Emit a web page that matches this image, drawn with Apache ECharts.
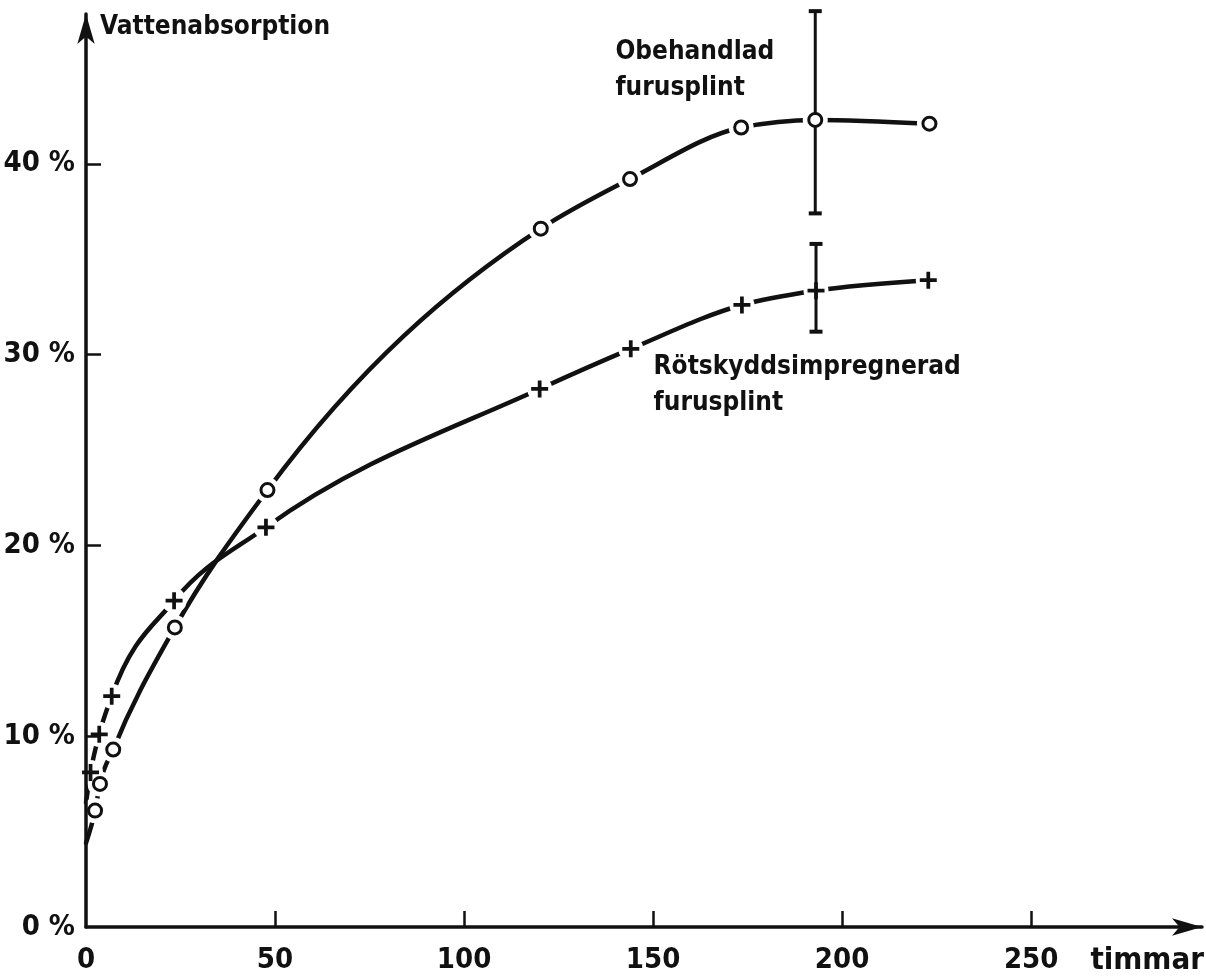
<!DOCTYPE html>
<html><head><meta charset="utf-8">
<script src="https://cdn.jsdelivr.net/npm/echarts@6/dist/echarts.min.js"></script>
<style>html,body{margin:0;padding:0;background:#fff}#c{width:1206px;height:976px}</style>
</head><body><div id="c"></div>
<script>
// Obehandlad furusplint (circles)
const untreatedHours = [2.4, 3.7, 7.2, 23.5, 48, 120.3, 143.9, 173.3, 192.9, 223.1];
const untreatedPct   = [6.1, 7.5, 9.3, 15.7, 22.9, 36.6, 39.2, 41.9, 42.3, 42.1];
const untreatedStart = [0, 4.4];
// Rötskyddsimpregnerad furusplint (plus)
const treatedHours = [1.2, 3.5, 6.8, 23.3, 47.6, 120, 144.1, 173.5, 193.1, 222.8];
const treatedPct   = [8.1, 10.1, 12.1, 17.1, 20.95, 28.2, 30.3, 32.6, 33.35, 33.9];
const treatedStart = [0, 6.5];
// spridning (error bars)
const errHours = [192.9, 193.1];
const errLow   = [37.4, 31.2];
const errHigh  = [48.0, 35.8];
// tick labels
const xTickValues = [0, 50, 100, 150, 200, 250];
const yTickValues = [0, 10, 20, 30, 40];
// curve annotations
const annotTexts = ['Obehandlad\nfurusplint', 'Rötskyddsimpregnerad\nfurusplint'];
const annotHours = [139.9, 150];
const annotPct   = [44.9, 28.4];

const INK = '#111';
const NUM_FONT = "'Liberation Sans Narrow', 'DejaVu Sans Condensed', 'DejaVu Sans', sans-serif";
const TXT_FONT = "'DejaVu Sans Condensed', 'Liberation Sans Narrow', 'DejaVu Sans', sans-serif";

const zip = (a, b) => a.map((v, i) => [v, b[i]]);
const untreated = zip(untreatedHours, untreatedPct);
const treated = zip(treatedHours, treatedPct);
const untreatedCurve = [untreatedStart].concat(untreated);
const treatedCurve = [treatedStart].concat(treated);
const PLUS = 'path://M3.9,0H6.1V3.9H10V6.1H6.1V10H3.9V6.1H0V3.9H3.9Z';

// monotone cubic (d3 monotoneX style) through pixel points
function monotonePath(p) {
  const n = p.length;
  const h = [], s = [], t = [];
  for (let i = 0; i < n - 1; i++) {
    h[i] = p[i + 1][0] - p[i][0];
    s[i] = (p[i + 1][1] - p[i][1]) / h[i];
  }
  for (let i = 1; i < n - 1; i++) {
    const pp = (s[i - 1] * h[i] + s[i] * h[i - 1]) / (h[i - 1] + h[i]);
    t[i] = (Math.sign(s[i - 1]) + Math.sign(s[i])) * Math.min(Math.abs(s[i - 1]), Math.abs(s[i]), 0.5 * Math.abs(pp)) || 0;
  }
  t[0] = (3 * s[0] - t[1]) / 2;
  t[n - 1] = (3 * s[n - 2] - t[n - 2]) / 2;
  let d = 'M' + p[0][0] + ',' + p[0][1];
  for (let i = 0; i < n - 1; i++) {
    const dx = h[i] / 3;
    d += 'C' + (p[i][0] + dx) + ',' + (p[i][1] + t[i] * dx) + ',' +
         (p[i + 1][0] - dx) + ',' + (p[i + 1][1] - t[i + 1] * dx) + ',' +
         p[i + 1][0] + ',' + p[i + 1][1];
  }
  return d;
}
function curveSeries(curve) {
  return {
    type: 'custom', z: 2, clip: false, silent: true, data: curve,
    renderItem: function (params, api) {
      if (params.dataIndex !== 0) return null;
      const pts = curve.map(c => api.coord(c));
      return {type: 'path', shape: {pathData: monotonePath(pts)},
              style: {fill: null, stroke: INK, lineWidth: 4.5, lineCap: 'round', lineJoin: 'round'}};
    }
  };
}

const chart = echarts.init(document.getElementById('c'), null, {renderer: 'canvas'});
chart.setOption({
  backgroundColor: '#fff',
  animation: false,
  grid: {left: 86, right: 4, top: 14, bottom: 49, containLabel: false, outerBoundsMode: 'none'},
  xAxis: {
    type: 'value', min: 0, max: 295.2, interval: 50, z: 6,
    splitLine: {show: false},
    axisLine: {show: true, symbol: ['none', 'arrow'], symbolSize: [13, 30], lineStyle: {color: INK, width: 3.5}},
    axisTick: {show: true, inside: true, length: 16, lineStyle: {color: INK, width: 2.5}, customValues: xTickValues.slice(1)},
    axisLabel: {customValues: xTickValues, margin: 19, color: INK, fontSize: 29, fontWeight: 'bold', fontFamily: NUM_FONT},
    name: 'timmar', nameLocation: 'end', nameGap: 2,
    nameTextStyle: {align: 'right', verticalAlign: 'top', padding: [18, 0, 0, 0], color: INK, fontSize: 31, fontWeight: 'bold', fontFamily: NUM_FONT}
  },
  yAxis: {
    type: 'value', min: 0, max: 47.85, interval: 10, z: 6,
    splitLine: {show: false},
    axisLine: {show: true, symbol: ['none', 'arrow'], symbolSize: [13, 30], lineStyle: {color: INK, width: 3.5}},
    axisTick: {show: true, inside: true, length: 15, lineStyle: {color: INK, width: 2.5}, customValues: yTickValues.slice(1)},
    axisLabel: {customValues: yTickValues, formatter: '{value} %', margin: 11, color: INK, fontSize: 29, fontWeight: 'bold', fontFamily: NUM_FONT},
    name: 'Vattenabsorption', nameLocation: 'end', nameGap: 0,
    nameTextStyle: {align: 'left', verticalAlign: 'top', padding: [0, 0, 0, 14], color: INK, fontSize: 26, fontWeight: 'bold', fontFamily: TXT_FONT}
  },
  series: [
    curveSeries(untreatedCurve),
    curveSeries(treatedCurve),
    // white gaps around the markers
    {type: 'scatter', data: untreated.concat(treated), symbol: 'circle', symbolSize: 25, z: 3,
     itemStyle: {color: '#fff', opacity: 1}, silent: true},
    // error bars
    {type: 'custom', z: 4, clip: false, silent: true,
     data: errHours.map((h, i) => [h, errLow[i], errHigh[i]]),
     renderItem: function (params, api) {
       const lo = api.coord([api.value(0), api.value(1)]);
       const hi = api.coord([api.value(0), api.value(2)]);
       const cap = 6.5;
       return {type: 'group', children: [
         {type: 'line', shape: {x1: lo[0], y1: lo[1], x2: hi[0], y2: hi[1]}, style: {stroke: INK, lineWidth: 3}},
         {type: 'line', shape: {x1: lo[0] - cap, y1: lo[1], x2: lo[0] + cap, y2: lo[1]}, style: {stroke: INK, lineWidth: 4}},
         {type: 'line', shape: {x1: hi[0] - cap, y1: hi[1], x2: hi[0] + cap, y2: hi[1]}, style: {stroke: INK, lineWidth: 4}}
       ]};
     }},
    {type: 'scatter', name: 'Obehandlad furusplint', data: untreated, symbol: 'circle', symbolSize: 13, z: 5,
     itemStyle: {color: '#fff', borderColor: INK, borderWidth: 3, opacity: 1}, silent: true},
    {type: 'scatter', name: 'Rötskyddsimpregnerad furusplint', data: treated, symbol: PLUS, symbolSize: 17, z: 5,
     itemStyle: {color: INK, opacity: 1}, silent: true},
    // annotations
    {type: 'scatter', z: 5, silent: true, symbolSize: 1, itemStyle: {color: 'rgba(0,0,0,0)', opacity: 1},
     data: annotHours.map((h, i) => [h, annotPct[i], annotTexts[i]]),
     label: {show: true, position: 'right', distance: 0, formatter: p => p.value[2],
             color: INK, fontSize: 26, fontWeight: 'bold', fontFamily: TXT_FONT, lineHeight: 36}}
  ]
});
</script>
</body></html>
